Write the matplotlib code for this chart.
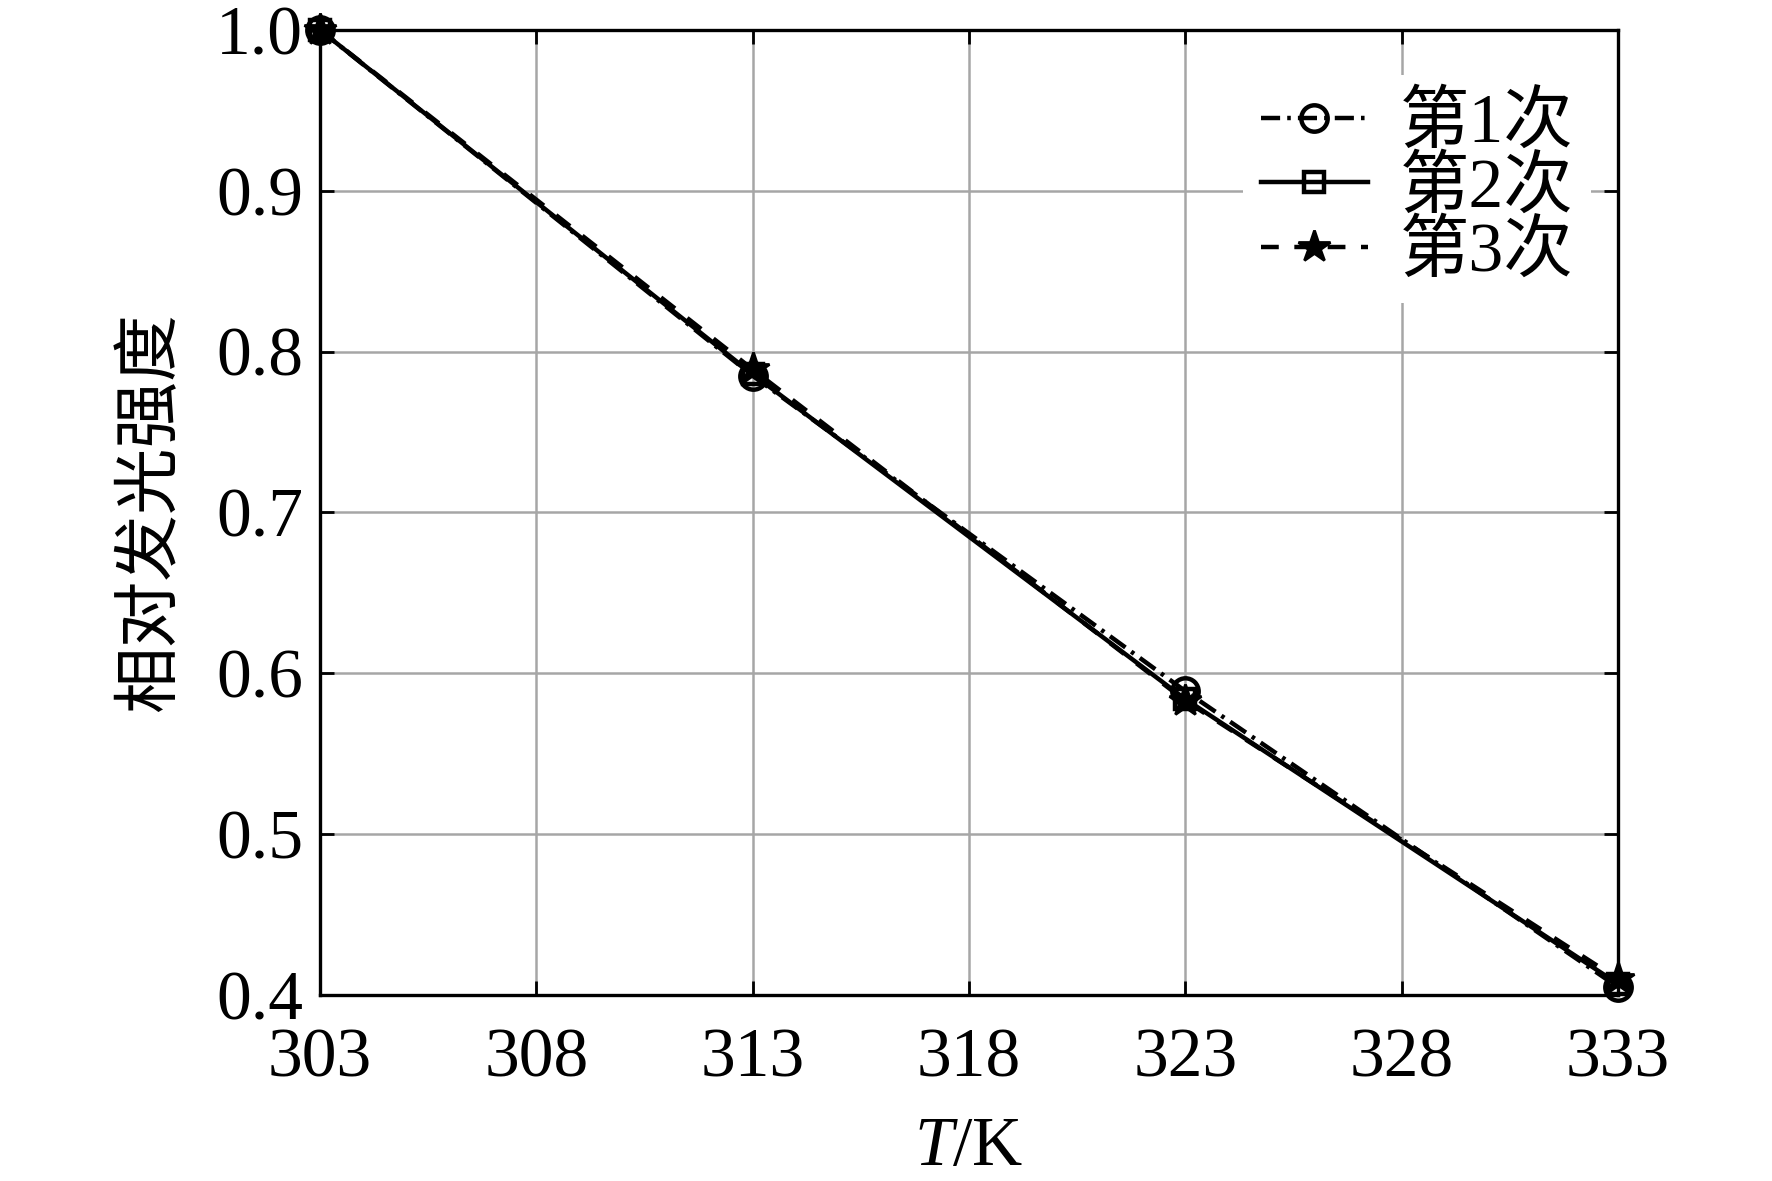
import numpy as np
import matplotlib
matplotlib.use('Agg')
import matplotlib.pyplot as plt

plt.rcParams['font.family'] = ['Liberation Serif', 'Noto Sans CJK SC']
plt.rcParams['mathtext.fontset'] = 'custom'
plt.rcParams['mathtext.it'] = 'Liberation Serif:italic'
plt.rcParams['mathtext.rm'] = 'Liberation Serif'

# temperatures (K) and relative luminous intensity for three runs
temps = [303, 313, 323, 333]
run1 = [1.0, 0.785, 0.589, 0.405]
run2 = [1.0, 0.786, 0.584, 0.407]
run3 = [1.0, 0.789, 0.583, 0.410]
labels = ['第1次', '第2次', '第3次']

fig = plt.figure(figsize=(8.86, 5.905), dpi=200)
ax = fig.add_axes([0.1806, 0.1575, 0.913 - 0.1806, 0.9746 - 0.1575])

lw = 1.6
ax.plot(temps, run1, color='k', linestyle=(0, (4.3, 1.6, 0.8, 1.6)), linewidth=lw, marker='o',
        markersize=9.5, markerfacecolor='none', markeredgewidth=1.6, label=labels[0],
        zorder=3, clip_on=False)
ax.plot(temps, run2, color='k', linestyle='-', linewidth=lw, marker='s',
        markersize=7.5, markerfacecolor='none', markeredgewidth=1.6, label=labels[1],
        zorder=3, clip_on=False)
ax.plot(temps, run3, color='k', linestyle=(0, (4, 3.5)), linewidth=lw, marker='*',
        markersize=12, markerfacecolor='k', markeredgewidth=1, label=labels[2],
        zorder=3, clip_on=False)

ax.set_xlim(303, 333)
ax.set_ylim(0.4, 1.0)
ax.set_xticks([303, 308, 313, 318, 323, 328, 333])
ax.set_yticks([0.4, 0.5, 0.6, 0.7, 0.8, 0.9, 1.0])
ax.set_yticklabels(['0.4', '0.5', '0.6', '0.7', '0.8', '0.9', '1.0'])
ax.grid(color='#a6a6a6', linewidth=0.9)
ax.set_axisbelow(True)
ax.tick_params(direction='in', top=True, right=True, labelsize=25, length=5,
               width=1.0)
ax.tick_params(axis='x', pad=12)
ax.tick_params(axis='y', pad=6)
for s in ax.spines.values():
    s.set_linewidth(1.2)

ax.set_xlabel('$T$/K', fontsize=25, labelpad=9)
ax.set_ylabel('相对发光强度', fontsize=24, labelpad=12)

leg = ax.legend(loc='upper right', bbox_to_anchor=(0.995, 0.975), fontsize=25,
                frameon=True, fancybox=False, edgecolor='none', framealpha=1,
                handlelength=1.55, handletextpad=0.45, labelspacing=0.0,
                borderaxespad=0.3, borderpad=0.25)

fig.savefig('out.png', dpi=200)
